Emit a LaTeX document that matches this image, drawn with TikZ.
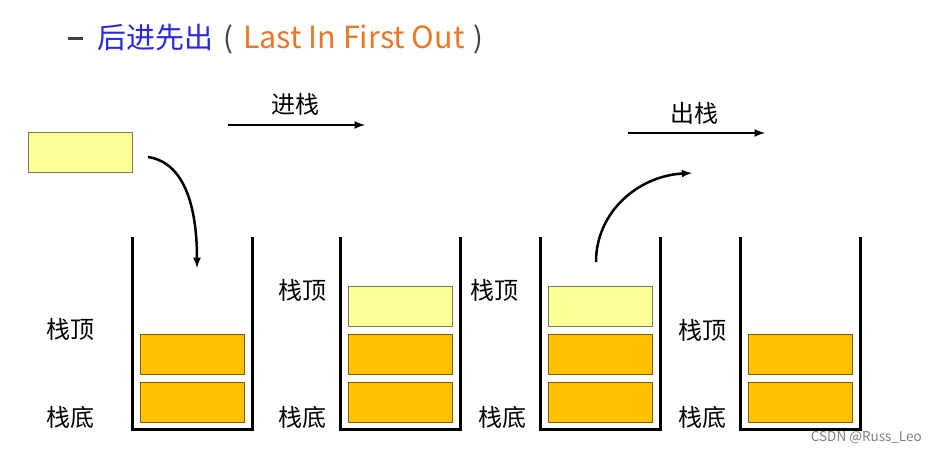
\documentclass[tikz,border=0pt]{standalone}
\usepackage{fontspec}
\setmainfont{Noto Sans CJK SC}
\usepackage{xcolor}
\usepackage{tikz}

\definecolor{boxorange}{RGB}{255,192,0}
\definecolor{boxpale}{RGB}{255,255,153}
\definecolor{edgeolive}{RGB}{127,96,0}
\definecolor{edgegray}{RGB}{120,120,90}
\definecolor{titleblue}{RGB}{40,40,225}
\definecolor{titleorange}{RGB}{237,118,40}

\begin{document}
\begin{tikzpicture}[x=1pt,y=-1pt,>=latex,
    wall/.style={line width=3pt},
    item/.style={draw=edgeolive,fill=boxorange,line width=1pt,minimum width=104pt,minimum height=40pt,inner sep=0pt},
    newitem/.style={item,draw=edgegray,fill=boxpale},
    tag/.style={font=\fontsize{24}{24}\selectfont,inner sep=0pt},
    move/.style={->,line width=2.5pt}]

    \useasboundingbox (0,0) rectangle (936,454);

    % Title line
    \node[anchor=west,inner sep=0pt,font=\fontsize{29}{29}\selectfont] (title) at (68,39)
        {\textcolor{darkgray}{\rule[0.3em]{15pt}{2.5pt}}\hspace{14pt}\textcolor{titleblue}{后进先出}\hspace{10pt}\textcolor{darkgray}{(}\hspace{10pt}{\fontsize{30.5}{30}\selectfont\textcolor{titleorange}{Last In First Out}}\hspace{9pt}\textcolor{darkgray}{)}};

    % Element waiting to be pushed
    \node[newitem] (pend) at (80,153) {};

    % Define coordinates for the arrows
    \coordinate (pushA) at (228,125);
    \coordinate (pushB) at (365,125);
    \coordinate (popA) at (628,133);
    \coordinate (popB) at (765,133);
    \coordinate (inA) at (148,157);
    \coordinate (inB) at (197,268);
    \coordinate (outA) at (596,262);
    \coordinate (outB) at (692,173);

    % Push / pop direction arrows
    \draw[move] (pushA) -- (pushB);
    \node[tag] (pushlbl) at (295,104) {进栈};   % push label
    \draw[move] (popA) -- (popB);
    \node[tag] (poplbl) at (694,113) {出栈};    % pop label

    % Curved arrows: element in, element out
    \draw[move] (inA) .. controls (188,163) and (197,215) .. (inB);
    \draw[move] (outA) .. controls (596,212) and (638,176) .. (outB);

    % Stack 1 (before push)
    \draw[wall] (132,237) -- ++(0,192) -- ++(120,0) -- ++(0,-192);
    \node[item] (s1b) at (192,402) {};
    \node[item] (s1c) at (192,354) {};
    \node[tag] (s1top) at (70,329) {栈顶};
    \node[tag] (s1bot) at (70,417) {栈底};

    % Stack 2 (after push)
    \draw[wall] (340,237) -- ++(0,192) -- ++(120,0) -- ++(0,-192);
    \node[item] (s2b) at (400,402) {};
    \node[item] (s2c) at (400,354) {};
    \node[newitem] (s2t) at (400,306) {};
    \node[tag] (s2top) at (302,290) {栈顶};
    \node[tag] (s2bot) at (302,417) {栈底};

    % Stack 3 (before pop)
    \draw[wall] (540,237) -- ++(0,192) -- ++(120,0) -- ++(0,-192);
    \node[item] (s3b) at (600,402) {};
    \node[item] (s3c) at (600,354) {};
    \node[newitem] (s3t) at (600,306) {};
    \node[tag] (s3top) at (494,290) {栈顶};
    \node[tag] (s3bot) at (502,417) {栈底};

    % Stack 4 (after pop)
    \draw[wall] (740,237) -- ++(0,192) -- ++(120,0) -- ++(0,-192);
    \node[item] (s4b) at (800,402) {};
    \node[item] (s4c) at (800,354) {};
    \node[tag] (s4top) at (702,330) {栈顶};
    \node[tag] (s4bot) at (702,417) {栈底};

    % Watermark
    \node[anchor=east,inner sep=0pt,text=gray,font=\fontsize{13.5}{13.5}\selectfont] (mark) at (922,438) {CSDN @Russ\_Leo};

\end{tikzpicture}
\end{document}
